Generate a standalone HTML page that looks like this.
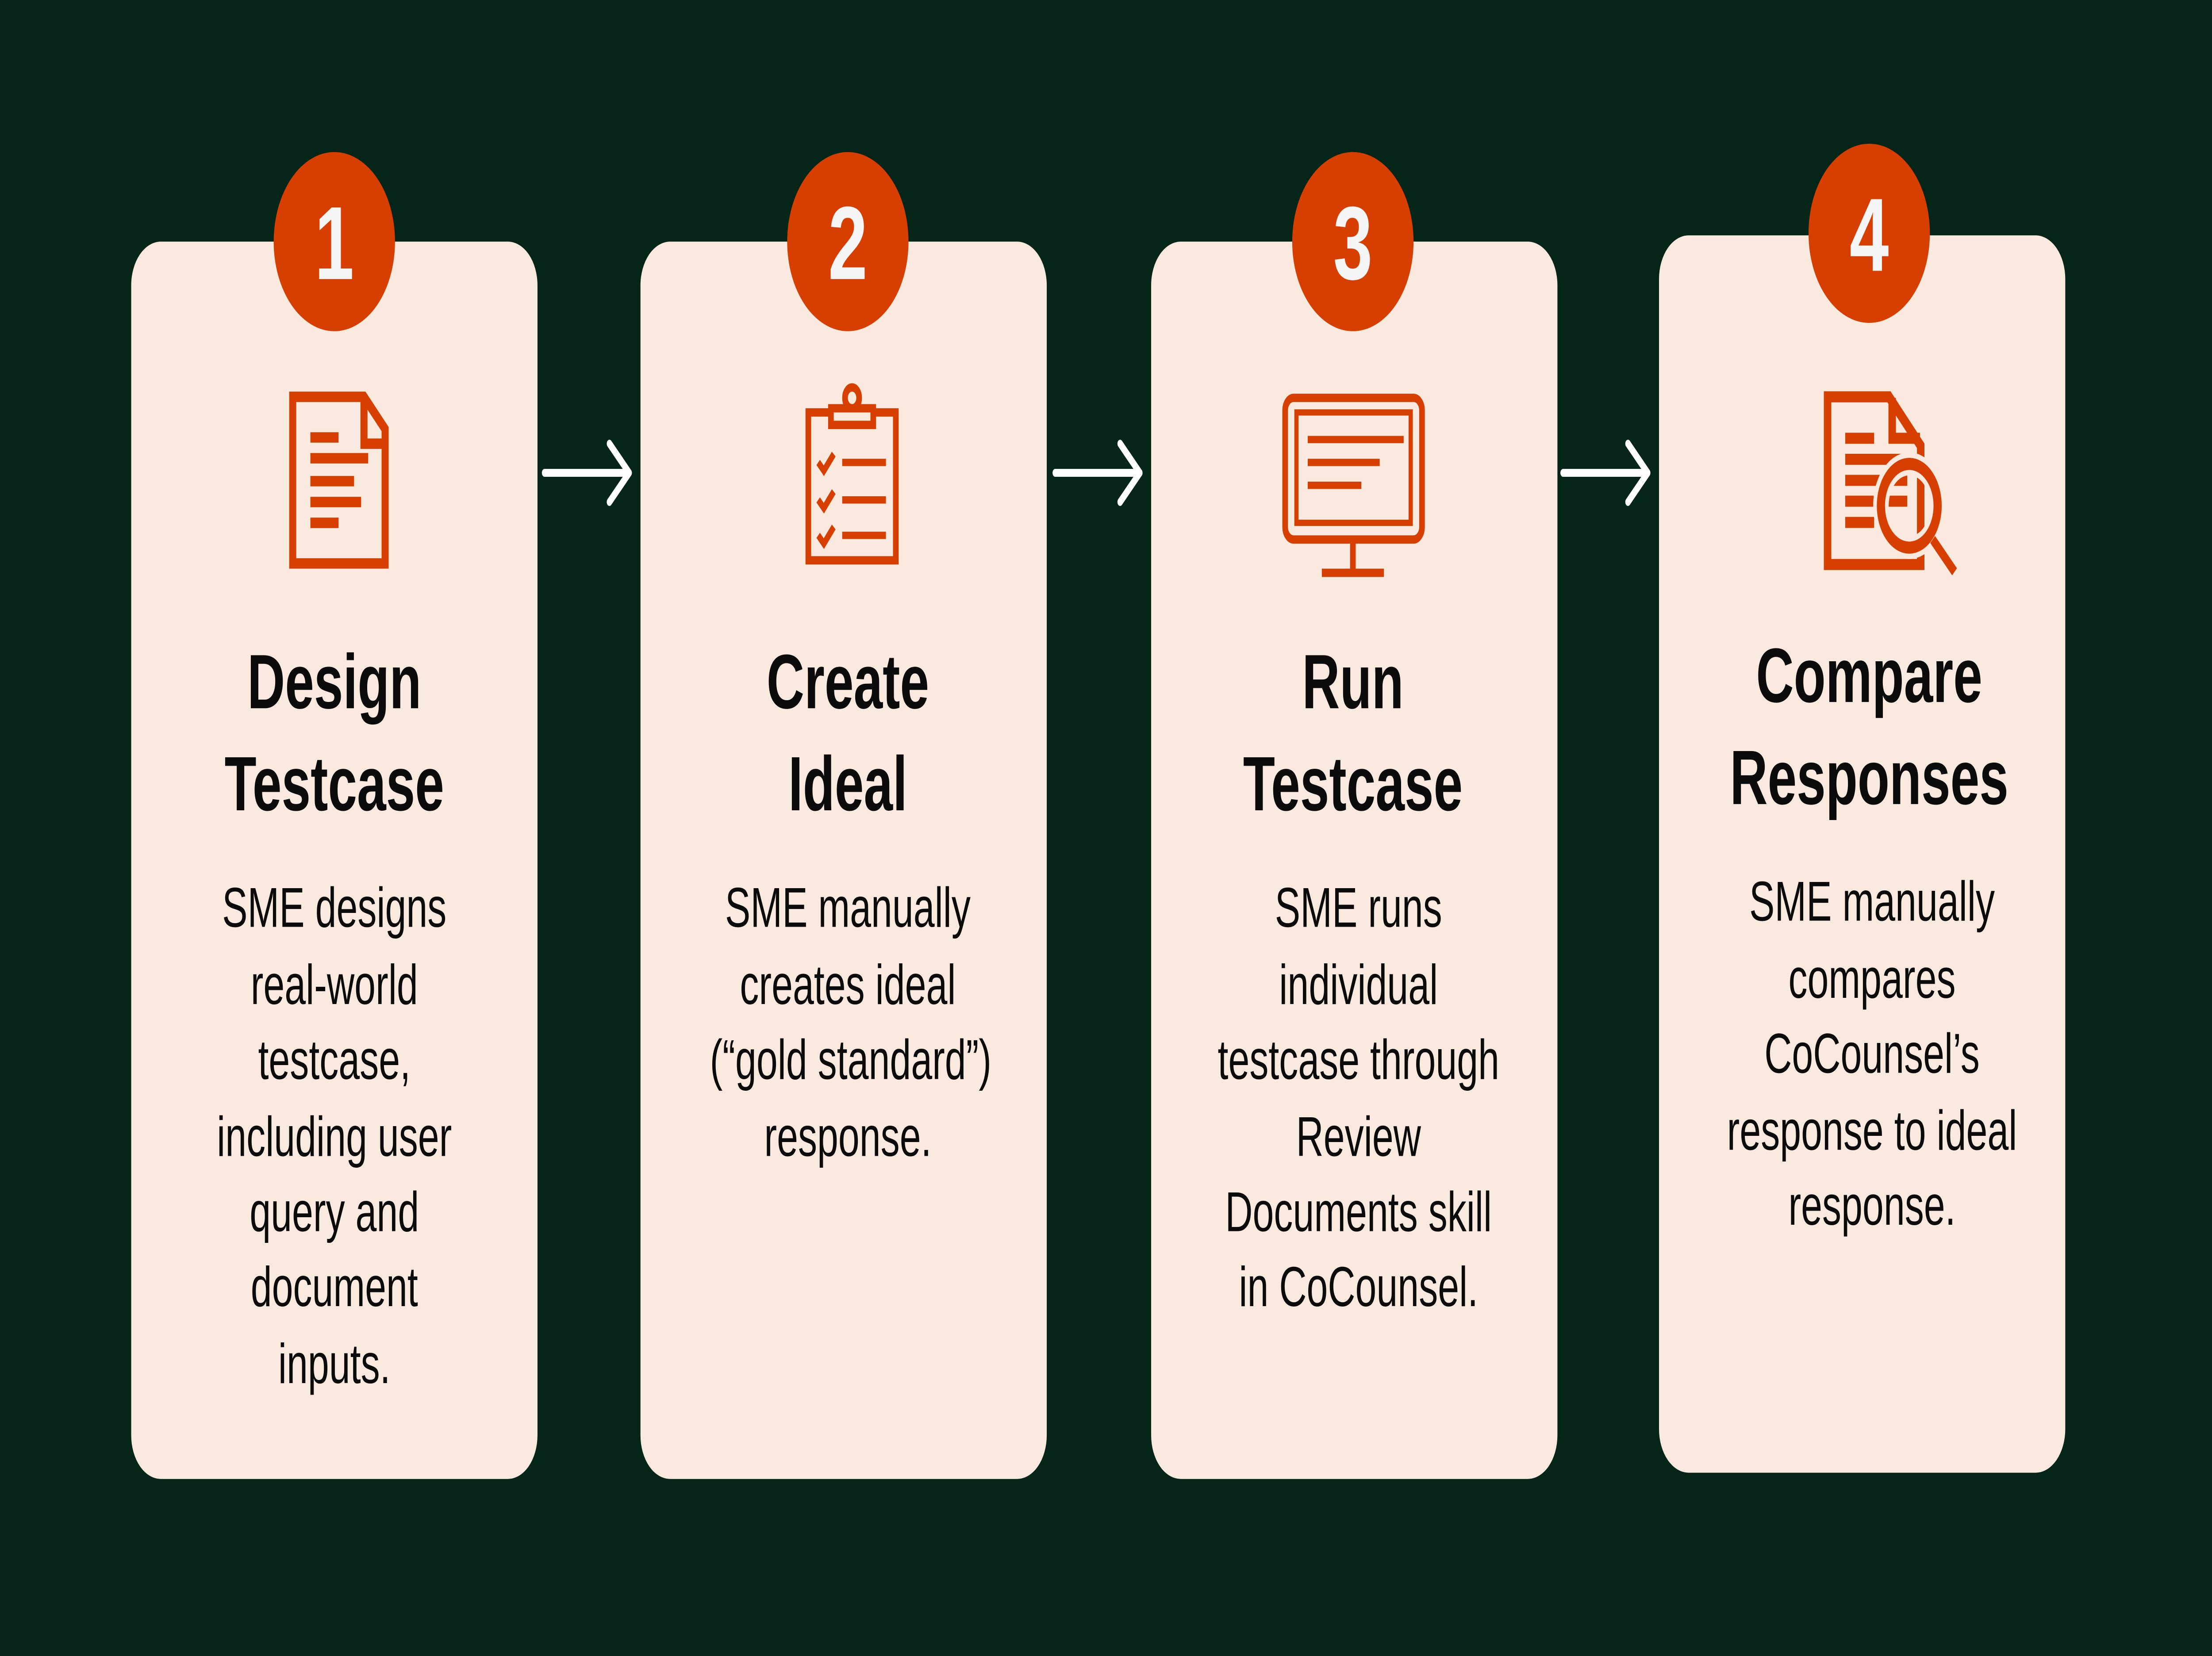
<!DOCTYPE html>
<html><head><meta charset="utf-8"><style>
html,body{margin:0;padding:0;background:#042518;width:100%;height:100%;overflow:hidden;}
svg{display:block;width:100vw;height:100vh;}
text{font-family:"Liberation Sans",sans-serif;}
</style></head><body>
<svg viewBox="0 0 1568 795" preserveAspectRatio="none" xmlns="http://www.w3.org/2000/svg">
<rect width="1568" height="795" fill="#042518"/>
<g fill="#f9e9df">
<rect x="93" y="116" width="288" height="594" rx="21"/>
<rect x="454" y="116" width="288" height="594" rx="21"/>
<rect x="816" y="116" width="288" height="594" rx="21"/>
<rect x="1176" y="113" width="288" height="594" rx="21"/>
</g>
<g fill="#d63f00">
<circle cx="237" cy="116" r="43"/>
<circle cx="601" cy="116" r="43"/>
<circle cx="959" cy="116" r="43"/>
<circle cx="1325" cy="112" r="43"/>
</g>
<g fill="#f5f5f5" font-weight="bold" font-size="50" text-anchor="middle">
<text x="237" y="134">1</text>
<text x="601" y="134">2</text>
<text x="959" y="134">3</text>
<text x="1325" y="130">4</text>
</g>
<g stroke="#ffffff" stroke-width="3.8" fill="none" stroke-linecap="round" stroke-linejoin="round">
<line x1="386" y1="227" x2="446" y2="227"/><polyline points="432,213 446,227 432,241"/>
<line x1="748" y1="227" x2="808" y2="227"/><polyline points="794,213 808,227 794,241"/>
<line x1="1108" y1="227" x2="1168" y2="227"/><polyline points="1154,213 1168,227 1154,241"/>
</g>
<g stroke="#d63f00" fill="none" stroke-width="5">
<path d="M207.5,190.5 H258 L273,206 V270.5 H207.5 Z"/>
<path d="M258,191 V213 H273"/>
<g stroke-width="5"><line x1="220" y1="210" x2="240" y2="210"/><line x1="220" y1="220" x2="261" y2="220"/><line x1="220" y1="231" x2="251" y2="231"/><line x1="220" y1="241" x2="256" y2="241"/><line x1="220" y1="251" x2="240" y2="251"/></g>
</g>
<g stroke="#d63f00" fill="none" stroke-width="4">
<rect x="573" y="198" width="62" height="71"/>
<path d="M589,204 V196 H619 V204 Z" fill="#f9e9df"/>
<circle cx="604" cy="191" r="5" fill="#f9e9df"/>
<g stroke-width="3.5"><polyline points="580,222 584,226 591,218"/><line x1="597" y1="222" x2="628" y2="222"/>
<polyline points="580,240 584,244 591,236"/><line x1="597" y1="240" x2="628" y2="240"/>
<polyline points="580,257 584,261 591,253"/><line x1="597" y1="257" x2="628" y2="257"/></g>
</g>
<g stroke="#d63f00" fill="none" stroke-width="4">
<rect x="911" y="191" width="97" height="68" rx="6"/>
<rect x="919" y="198" width="81" height="53" stroke-width="3"/>
<g stroke-width="3.5"><line x1="927" y1="211" x2="995" y2="211"/><line x1="927" y1="222" x2="978" y2="222"/><line x1="927" y1="233" x2="965" y2="233"/></g>
<line x1="959" y1="259" x2="959" y2="274"/>
<line x1="937" y1="275" x2="981" y2="275"/>
</g>
<g fill="none">
<g stroke="#d63f00" stroke-width="5.3">
<path d="M1295.5,190.5 H1339 L1361.5,214 V271 H1295.5 Z"/>
<path d="M1341.3,191 V210.4 H1361"/>
<line x1="1308" y1="210.4" x2="1328.5" y2="210.4"/>
<line x1="1308" y1="220.5" x2="1352" y2="220.5"/>
<line x1="1308" y1="230.6" x2="1352" y2="230.6"/>
<line x1="1308" y1="240.6" x2="1352" y2="240.6"/>
<line x1="1308" y1="250.8" x2="1328.5" y2="250.8"/>
</g>
<circle cx="1353.4" cy="242.8" r="20.1" stroke="#f9e9df" stroke-width="11"/>
<circle cx="1353.4" cy="242.8" r="20.1" stroke="#d63f00" stroke-width="5.8"/>
<line x1="1370" y1="259" x2="1385.5" y2="274.5" stroke="#d63f00" stroke-width="4.8"/>
</g>
<g fill="#0b0b0b" font-weight="bold" font-size="37" text-anchor="middle">
<text x="237" y="340">Design</text><text x="237" y="389">Testcase</text>
<text x="601" y="340">Create</text><text x="601" y="389">Ideal</text>
<text x="959" y="340">Run</text><text x="959" y="389">Testcase</text>
<text x="1325" y="337">Compare</text><text x="1325" y="386">Responses</text>
</g>
<g fill="#0b0b0b" font-size="27" text-anchor="middle">
<text x="237" y="445">SME designs</text><text x="237" y="482">real-world</text><text x="237" y="518">testcase,</text><text x="237" y="555">including user</text><text x="237" y="591">query and</text><text x="237" y="627">document</text><text x="237" y="664">inputs.</text>
<text x="601" y="445">SME manually</text><text x="601" y="482">creates ideal</text><text x="603" y="518">(“gold standard”)</text><text x="601" y="555">response.</text>
<text x="963" y="445">SME runs</text><text x="963" y="482">individual</text><text x="963" y="518">testcase through</text><text x="963" y="555">Review</text><text x="963" y="591">Documents skill</text><text x="963" y="627">in CoCounsel.</text>
<text x="1327" y="442">SME manually</text><text x="1327" y="479">compares</text><text x="1327" y="515">CoCounsel’s</text><text x="1327" y="552">response to ideal</text><text x="1327" y="588">response.</text>
</g>
</svg>
</body></html>
